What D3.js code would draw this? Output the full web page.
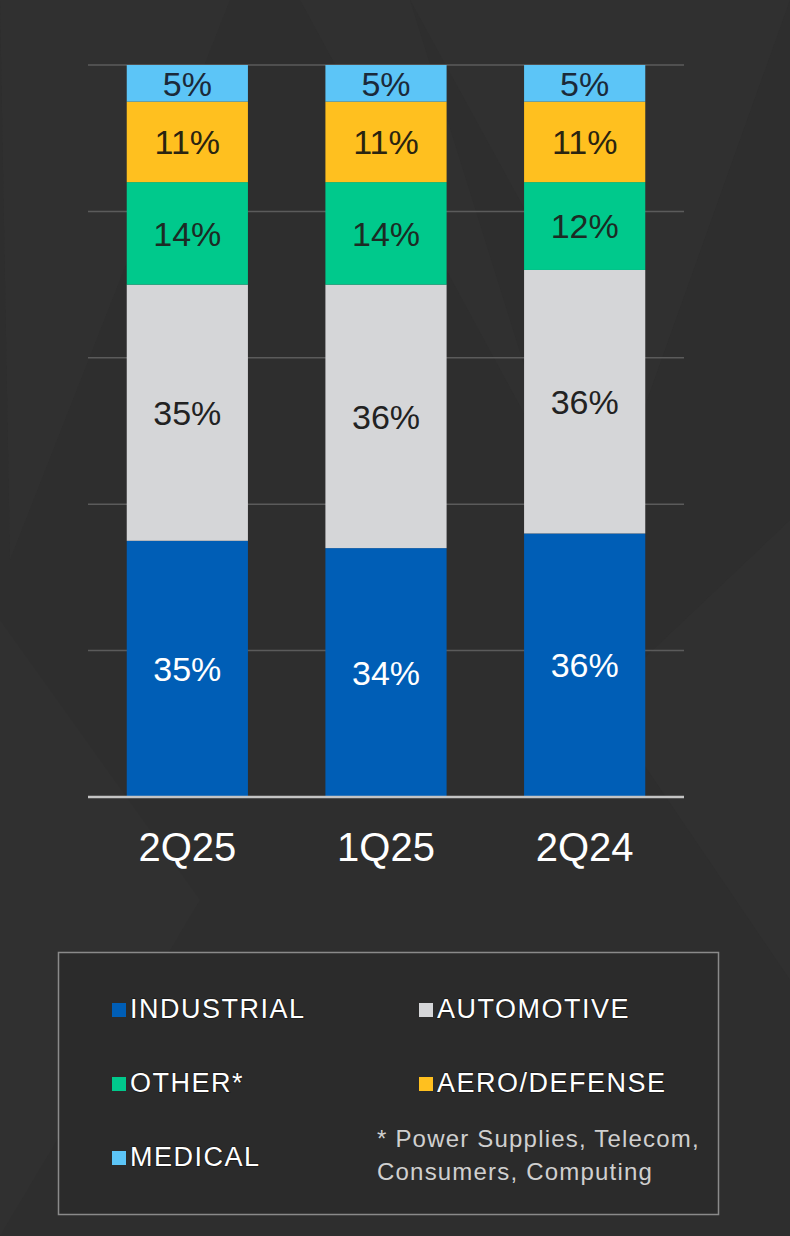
<!DOCTYPE html>
<html lang="en">
<head>
  <meta charset="UTF-8" />
  <title>Revenue by End Market</title>
  <script src="https://d3js.org/d3.v7.min.js"></script>
  <style>
    body {
      margin: 0;
      background: #2d2d2d;
      font-family: 'Liberation Sans', Arial, sans-serif;
    }
    .grid line { stroke: #5b5b5b; stroke-width: 1.5px; }
    .bar-label { font-size: 34px; text-anchor: middle; }
    .cat-label { font-size: 40px; fill: #ffffff; text-anchor: middle; }
    .legend-label {
      font-size: 27px;
      fill: #ffffff;
      letter-spacing: 1.5px;
      paint-order: stroke;
      stroke: #1a1a1a;
      stroke-width: 1.5px;
    }
    .note { font-size: 24px; fill: #d0d0d0; letter-spacing: 1.2px; }
  </style>
</head>
<body>
  <svg id="chart"></svg>

  <script>
    // chart data
    const categories = ["2Q25", "1Q25", "2Q24"];
    const seriesNames = ["INDUSTRIAL", "AUTOMOTIVE", "OTHER*", "AERO/DEFENSE", "MEDICAL"];
    const industrial = [35, 34, 36];
    const automotive = [35, 36, 36];
    const other = [14, 14, 12];
    const aeroDefense = [11, 11, 11];
    const medical = [5, 5, 5];
    const yTicks = [0, 20, 40, 60, 80, 100];
    const footnote = ["* Power Supplies, Telecom,", "Consumers, Computing"];

    const seriesValues = [industrial, automotive, other, aeroDefense, medical];
    const colors = ["#005eb6", "#d5d6d8", "#00c98c", "#ffc01f", "#5cc5f7"];
    const textColors = ["#ffffff", "#222222", "#1c2b24", "#2a2410", "#1b2a3a"];

    const width = 790, height = 1236;
    const svg = d3.select("#chart").attr("width", width).attr("height", height);

    // faint background triangles
    const bg = svg.append("g");
    bg.append("rect").attr("width", width).attr("height", height).attr("fill", "#2e2e2e");
    const tris = [
      [[0, 0], [230, 0], [10, 560]],
      [[300, 0], [410, 0], [560, 480]],
      [[410, 0], [790, 0], [640, 420]],
      [[0, 620], [200, 900], [0, 1236]],
      [[600, 700], [790, 520], [790, 980]]
    ];
    bg.selectAll("polygon").data(tris).join("polygon")
      .attr("points", d => d.map(p => p.join(",")).join(" "))
      .attr("fill", "#353535")
      .attr("opacity", 0.35);

    const rows = categories.map((c, i) => {
      const r = { category: c };
      seriesNames.forEach((s, j) => r[s] = seriesValues[j][i]);
      return r;
    });
    const stacked = d3.stack().keys(seriesNames)(rows);

    const x = d3.scaleBand().domain(categories).range([88, 684])
      .paddingInner(0.39).paddingOuter(0.195);
    const y = d3.scaleLinear().domain([0, 100]).range([797, 65]);

    // gridlines
    svg.append("g").attr("class", "grid")
      .selectAll("line").data(yTicks.filter(t => t > 0)).join("line")
      .attr("x1", 88).attr("x2", 684)
      .attr("y1", d => y(d)).attr("y2", d => y(d));

    // bars
    const layers = svg.append("g").selectAll("g").data(stacked).join("g")
      .attr("fill", (d, i) => colors[i]);
    layers.selectAll("rect").data(d => d).join("rect")
      .attr("x", d => x(d.data.category))
      .attr("width", x.bandwidth())
      .attr("y", d => y(d[1]))
      .attr("height", d => y(d[0]) - y(d[1]));

    // value labels
    const labels = svg.append("g").selectAll("g").data(stacked).join("g")
      .attr("fill", (d, i) => textColors[i]);
    labels.selectAll("text").data(d => d).join("text")
      .attr("class", "bar-label")
      .attr("x", d => x(d.data.category) + x.bandwidth() / 2)
      .attr("y", d => (y(d[0]) + y(d[1])) / 2)
      .attr("dy", "0.36em")
      .text(d => (d[1] - d[0]) + "%");

    // x axis line
    svg.append("line")
      .attr("x1", 88).attr("x2", 684)
      .attr("y1", y(0)).attr("y2", y(0))
      .attr("stroke", "#c4c4c4").attr("stroke-width", 2.5);

    svg.append("g").selectAll("text").data(categories).join("text")
      .attr("class", "cat-label")
      .attr("x", d => x(d) + x.bandwidth() / 2)
      .attr("y", 861)
      .text(d => d);

    // legend
    const legend = svg.append("g");
    legend.append("rect")
      .attr("x", 58.5).attr("y", 952.5).attr("width", 660).attr("height", 262)
      .attr("fill", "#2b2b2b").attr("stroke", "#8a8a8a").attr("stroke-width", 1.5);

    const legendPos = [
      [112, 1018], [419, 1018],
      [112, 1092], [419, 1092],
      [112, 1166]
    ];
    const items = legend.selectAll("g.item").data(seriesNames).join("g")
      .attr("class", "item")
      .attr("transform", (d, i) => `translate(${legendPos[i][0]},${legendPos[i][1]})`);
    items.append("rect")
      .attr("x", 0).attr("y", -15).attr("width", 14).attr("height", 14)
      .attr("fill", (d, i) => colors[i]);
    items.append("text")
      .attr("class", "legend-label")
      .attr("x", 18).attr("y", 0)
      .text(d => d);

    legend.selectAll("text.note").data(footnote).join("text")
      .attr("class", "note")
      .attr("x", 377)
      .attr("y", (d, i) => 1147 + i * 33)
      .text(d => d);
  </script>
</body>
</html>
